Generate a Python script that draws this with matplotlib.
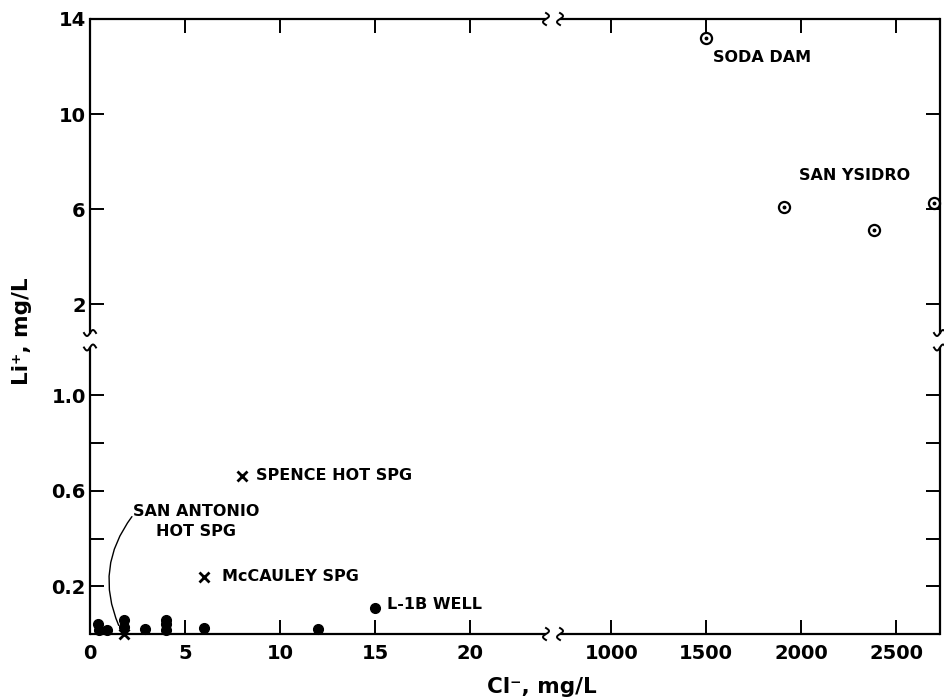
import numpy as np
import matplotlib.pyplot as plt
from matplotlib.lines import Line2D
from matplotlib.transforms import IdentityTransform

plt.rcParams['font.family'] = 'DejaVu Sans'
plt.rcParams['font.weight'] = 'bold'

# Cl- vs Li+ (mg/L)
dot_cl = [0.4, 0.5, 0.9, 1.8, 1.8, 2.9, 4.0, 4.0, 4.0, 6.0, 12.0, 15.0]
dot_li = [0.04, 0.015, 0.015, 0.06, 0.03, 0.02, 0.06, 0.04, 0.015, 0.025, 0.02, 0.11]

spg_cl = [1.8, 6.0, 8.0]      # x markers
spg_li = [0.0, 0.24, 0.66]

hot_cl = [1500, 1910, 2385, 2700]   # circled dots
hot_li = [13.2, 6.1, 5.15, 6.25]

xticks = [0, 5, 10, 15, 20, 1000, 1500, 2000, 2500]
xtick_labels = ['0', '5', '10', '15', '20', '1000', '1500', '2000', '2500']
yticks_top = [2, 6, 10, 14]
yticks_bot = [0.2, 0.6, 1.0]
yminor_bot = [0.4, 0.8]

# broken x scale: 0-24 then 730-2730, as pixel-like units
knots_x = [-100, 0, 24, 730, 2730, 10000]
knots_u = [-1900, 0, 456, 470, 850, 2228.7]


def fwd(x):
    return np.interp(x, knots_x, knots_u)


def inv(u):
    return np.interp(u, knots_u, knots_x)


W, H = 945, 700
fig = plt.figure(figsize=(9.45, 7), dpi=100)


def box(l, t, r, b):
    return [l / W, 1 - b / H, (r - l) / W, (b - t) / H]


ax_top = fig.add_axes(box(90, 19, 940, 333))
ax_bot = fig.add_axes(box(90, 347.5, 940, 634))

lw = 1.6
for ax in (ax_top, ax_bot):
    ax.set_xscale('function', functions=(fwd, inv))
    ax.set_xlim(0, 2730)
    for s in ax.spines.values():
        s.set_linewidth(lw)
    ax.tick_params(direction='in', length=10, width=1.4, labelsize=14)

ax_top.set_ylim(0.8, 14)
ax_bot.set_ylim(0, 1.2)

ax_top.spines['bottom'].set_visible(False)
ax_top.spines['top'].set_visible(False)
ax_bot.spines['top'].set_visible(False)
ax_bot.spines['bottom'].set_visible(False)

# top/bottom spines with the x gap
for ax, yy in ((ax_top, 1), (ax_bot, 0)):
    for seg in ((0, 24), (730, 2730)):
        ax.plot(seg, [yy, yy], transform=ax.get_xaxis_transform(), color='k',
                lw=lw, clip_on=False, solid_capstyle='butt')

ax_top.set_xticks(xticks[1:])
ax_top.tick_params(axis='x', bottom=False, top=True, labelbottom=False)
ax_top.set_yticks(yticks_top)
ax_top.set_yticklabels([str(v) for v in yticks_top])
ax_top.tick_params(axis='y', left=True, right=True, pad=3)

ax_bot.set_xticks(xticks)
ax_bot.set_xticklabels(xtick_labels)
ax_bot.tick_params(axis='x', top=False, pad=7)
ax_bot.set_yticks(yticks_bot)
ax_bot.set_yticklabels(['0.2', '0.6', '1.0'])
ax_bot.set_yticks(yminor_bot, minor=True)
ax_bot.tick_params(axis='y', which='both', left=True, right=True, pad=3,
                   direction='in', length=10, width=1.4)
ax_bot.tick_params(axis='x', which='minor', bottom=False)

# data
ax_bot.plot(dot_cl, dot_li, 'o', color='k', ms=7, clip_on=False)
ax_bot.plot(spg_cl, spg_li, 'x', color='k', ms=7, mew=2, clip_on=False)
ax_top.plot(hot_cl, hot_li, 'o', mfc='white', mec='k', mew=1.6, ms=8, clip_on=False)
ax_top.plot(hot_cl, hot_li, 'o', color='k', ms=1.8, clip_on=False)

lab = dict(fontsize=11.5, fontweight='bold', va='center')
ax_top.annotate('SODA DAM', (hot_cl[0], hot_li[0]), xytext=(5, -14),
                textcoords='offset points', ha='left', **lab)
ax_top.text(1990, 7.4, 'SAN YSIDRO', ha='left', **lab)
ax_bot.annotate('SPENCE HOT SPG', (spg_cl[2], spg_li[2]), xytext=(10, 1),
                textcoords='offset points', ha='left', **lab)
ax_bot.annotate('McCAULEY SPG', (spg_cl[1], spg_li[1]), xytext=(13, 0),
                textcoords='offset points', ha='left', **lab)
ax_bot.annotate('L-1B WELL', (dot_cl[-1], dot_li[-1]), xytext=(9, 2),
                textcoords='offset points', ha='left', **lab)
ax_bot.annotate('SAN ANTONIO\nHOT SPG', xy=(1.6, 0.02), xytext=(2.25, 0.47),
                ha='left', multialignment='center', linespacing=1.4,
                arrowprops=dict(arrowstyle='-', lw=1.0, color='k',
                                connectionstyle='arc3,rad=0.3',
                                relpos=(0, 0.68), patchA=None,
                                shrinkA=1, shrinkB=3),
                **lab)

# break marks
def squiggle(cx, cy, vertical):
    t = np.linspace(-1, 1, 40)
    if vertical:
        xs, ys = cx + 3 * np.sin(np.pi * t), cy + 6 * t
    else:
        xs, ys = cx + 6 * t, cy + 3 * np.sin(np.pi * t)
    fig.add_artist(Line2D(xs, ys, transform=IdentityTransform(), color='k', lw=1.4))


for ax, yy in ((ax_top, 1), (ax_bot, 0)):
    for xb in (24, 730):
        px, py = ax.get_xaxis_transform().transform((xb, yy))
        squiggle(px, py, True)

for ax, yy in ((ax_top, 0), (ax_bot, 1)):
    for xx in (0, 1):
        px, py = ax.transAxes.transform((xx, yy))
        squiggle(px, py, False)

fig.text(22 / W, 1 - 331 / H, 'Li\u207a, mg/L', rotation=90, ha='center',
         va='center', fontsize=15.5, fontweight='bold')
fig.text(542 / W, 1 - 687 / H, 'Cl\u207b, mg/L', ha='center', va='center',
         fontsize=15.5, fontweight='bold')

fig.savefig('out.png', dpi=100)
